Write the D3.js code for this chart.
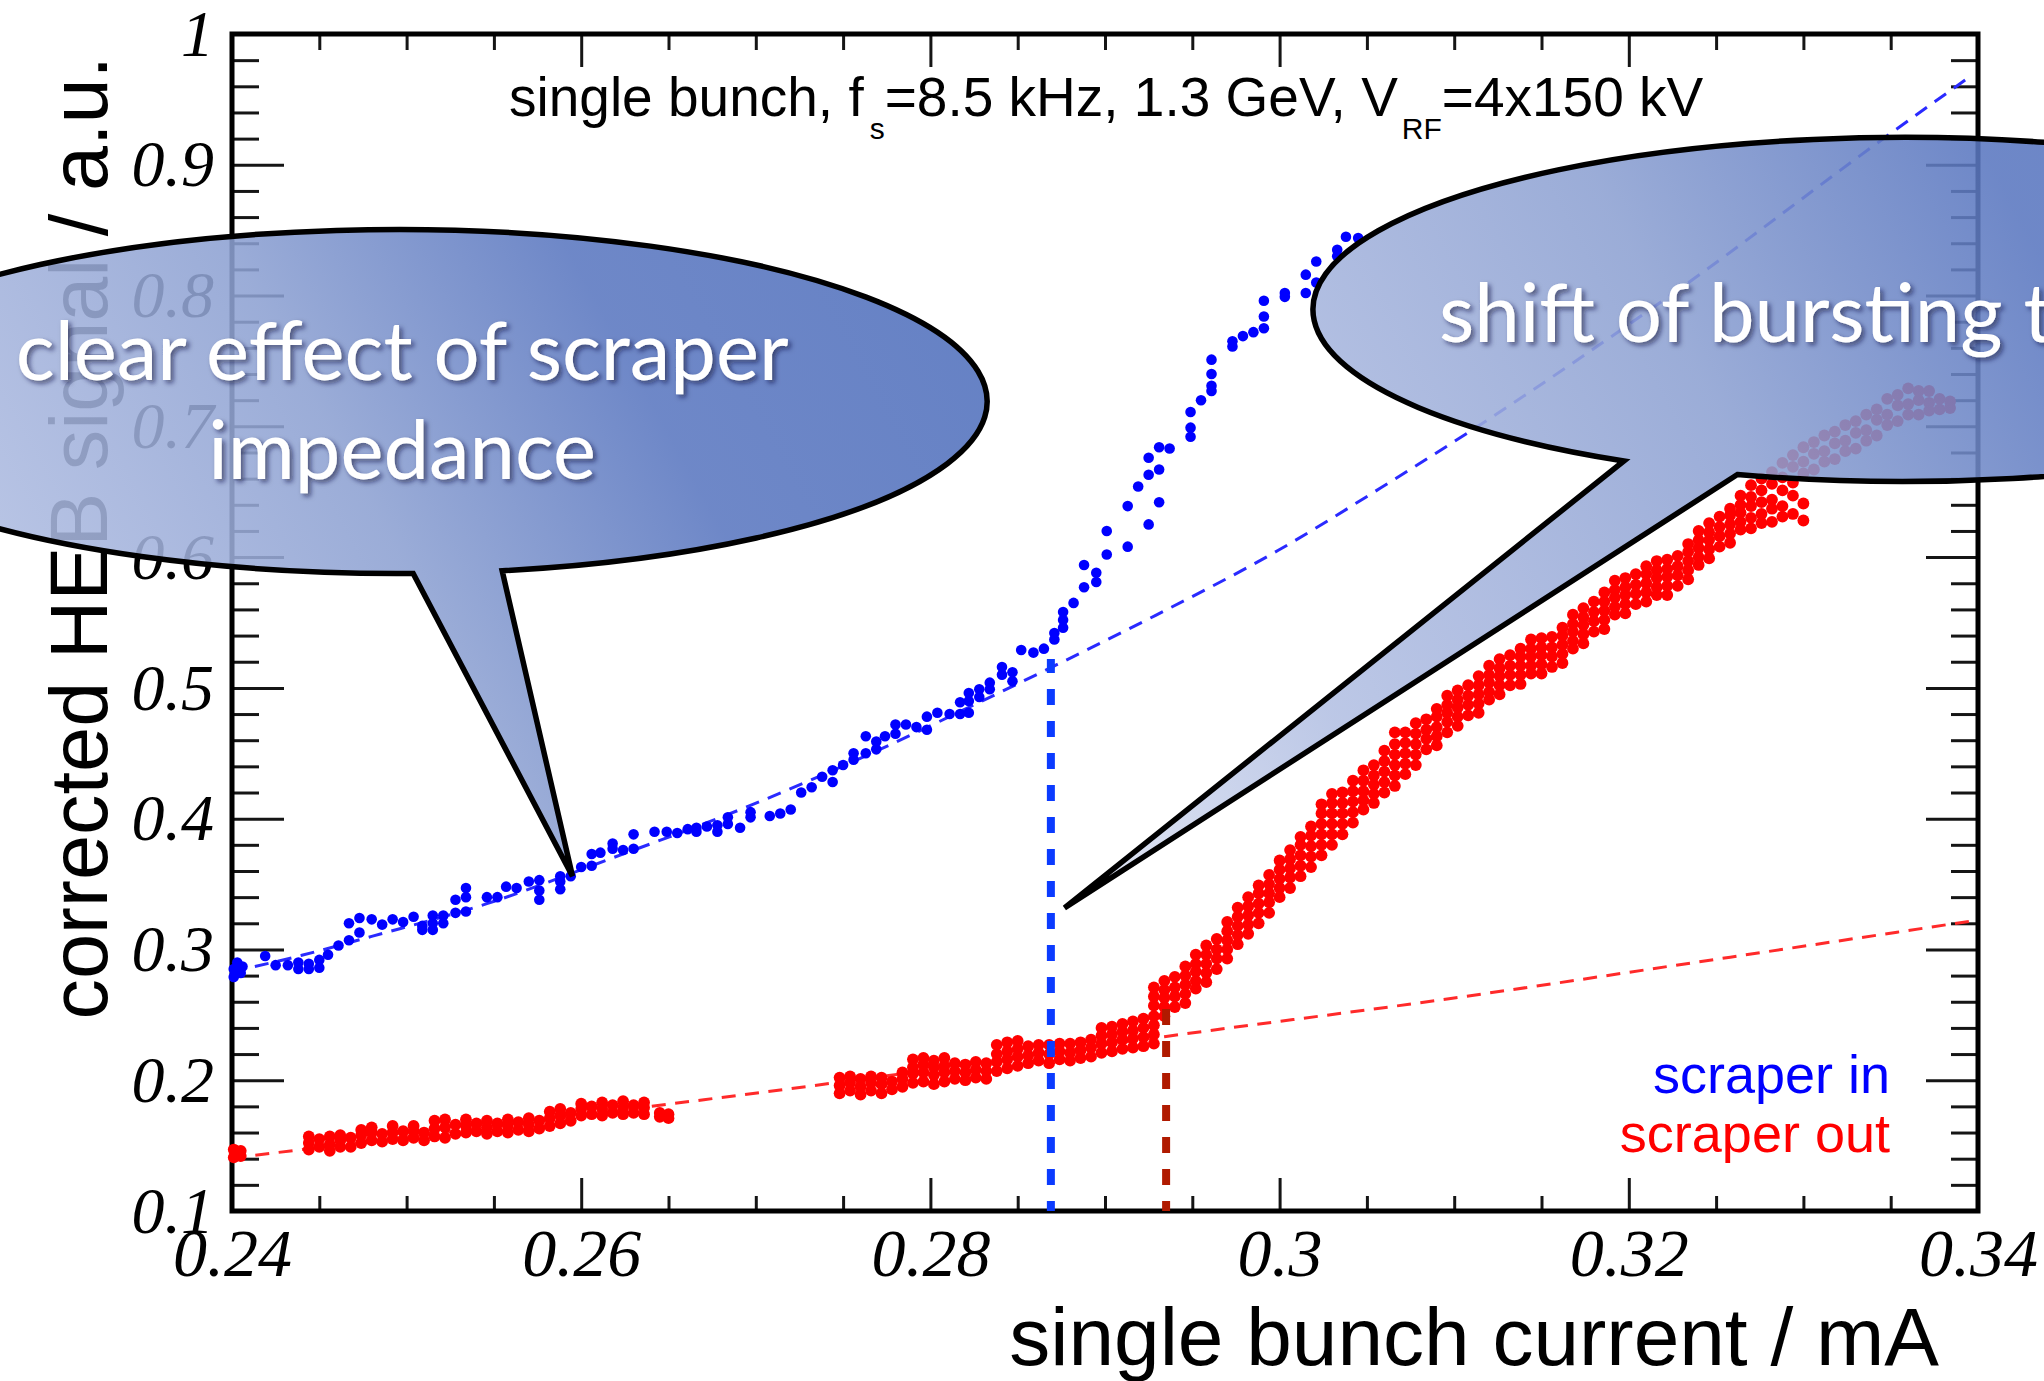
<!DOCTYPE html>
<html>
<head>
<meta charset="utf-8">
<script src="https://cdn.jsdelivr.net/npm/d3@7"></script>
<style>
  html, body { margin: 0; padding: 0; background: #fff; }
  svg { display: block; }
</style>
</head>
<body>
<svg id="chart" width="2044" height="1381"></svg>
<script>
// ---------------- data ----------------
const xTickValues = [0.24, 0.26, 0.28, 0.30, 0.32, 0.34];
const xTickLabels = ["0.24", "0.26", "0.28", "0.3", "0.32", "0.34"];
const yTickValues = [0.1, 0.2, 0.3, 0.4, 0.5, 0.6, 0.7, 0.8, 0.9, 1.0];
const yTickLabels = ["0.1", "0.2", "0.3", "0.4", "0.5", "0.6", "0.7", "0.8", "0.9", "1"];

const seriesNames = ["scraper in", "scraper out"];
const seriesColors = ["#0000ff", "#ff0000"];

// scraper in: [current (mA), corrected HEB signal (a.u.)]
const scraperIn = [
  [0.2401,0.279],[0.2401,0.285],[0.2403,0.290],[0.2405,0.282],[0.2406,0.287],
  [0.2419,0.295],[0.2425,0.288],[0.2432,0.288],[0.2438,0.285],[0.2438,0.290],
  [0.2444,0.285],[0.2444,0.289],[0.2450,0.286],[0.2450,0.292],[0.2455,0.296],
  [0.2461,0.303],[0.2467,0.307],[0.2467,0.320],[0.2473,0.313],[0.2473,0.324],
  [0.2480,0.323],[0.2486,0.319],[0.2492,0.323],[0.2498,0.321],[0.2504,0.325],
  [0.2509,0.315],[0.2509,0.318],[0.2515,0.315],[0.2515,0.320],[0.2515,0.326],
  [0.2521,0.320],[0.2521,0.326],[0.2528,0.328],[0.2528,0.338],[0.2534,0.329],
  [0.2534,0.340],[0.2534,0.347],[0.2546,0.340],[0.2552,0.340],[0.2557,0.348],
  [0.2563,0.347],[0.2570,0.352],[0.2576,0.338],[0.2576,0.345],[0.2576,0.353],
  [0.2588,0.346],[0.2588,0.352],[0.2588,0.356],[0.2594,0.356],[0.2600,0.363],
  [0.2606,0.364],[0.2606,0.373],[0.2611,0.374],[0.2618,0.377],[0.2618,0.381],
  [0.2624,0.376],[0.2630,0.377],[0.2630,0.388],[0.2642,0.390],[0.2649,0.390],
  [0.2655,0.389],[0.2661,0.392],[0.2666,0.390],[0.2666,0.393],[0.2672,0.394],
  [0.2678,0.390],[0.2678,0.395],[0.2684,0.396],[0.2684,0.401],[0.2691,0.393],
  [0.2697,0.401],[0.2697,0.405],[0.2708,0.402],[0.2714,0.404],[0.2720,0.407],
  [0.2726,0.420],[0.2732,0.424],[0.2738,0.432],[0.2744,0.428],[0.2744,0.437],
  [0.2750,0.441],[0.2756,0.445],[0.2756,0.450],[0.2763,0.450],[0.2763,0.463],
  [0.2769,0.453],[0.2769,0.459],[0.2774,0.463],[0.2780,0.465],[0.2780,0.472],
  [0.2786,0.472],[0.2792,0.470],[0.2798,0.468],[0.2798,0.478],[0.2804,0.481],
  [0.2811,0.480],[0.2817,0.480],[0.2817,0.489],[0.2822,0.481],[0.2822,0.490],
  [0.2822,0.496],[0.2828,0.493],[0.2828,0.499],[0.2834,0.499],[0.2834,0.504],
  [0.2841,0.510],[0.2841,0.516],[0.2847,0.505],[0.2847,0.512],[0.2852,0.529],
  [0.2859,0.527],[0.2865,0.530],[0.2871,0.537],[0.2871,0.542],[0.2876,0.546],
  [0.2876,0.552],[0.2876,0.558],[0.2882,0.565],[0.2888,0.577],[0.2888,0.594],
  [0.2895,0.581],[0.2895,0.588],[0.2901,0.602],[0.2901,0.620],[0.2913,0.608],
  [0.2913,0.639],[0.2919,0.654],[0.2925,0.625],[0.2925,0.663],[0.2925,0.676],
  [0.2931,0.642],[0.2931,0.667],[0.2931,0.684],[0.2937,0.683],[0.2949,0.692],
  [0.2949,0.699],[0.2949,0.711],[0.2955,0.720],[0.2961,0.727],[0.2961,0.731],
  [0.2961,0.740],[0.2961,0.751],[0.2973,0.761],[0.2973,0.765],[0.2979,0.769],
  [0.2985,0.772],[0.2991,0.775],[0.2991,0.784],[0.2991,0.796],[0.3003,0.799],
  [0.3003,0.802],[0.3015,0.802],[0.3015,0.816],[0.3021,0.810],[0.3021,0.826],
  [0.3033,0.830],[0.3033,0.835],[0.3038,0.845],[0.3045,0.844]
];

// scraper out: readings grouped by current, [current, [signals...]]
const scraperOutColumns = [
  [0.2401,[0.141,0.147]],[0.2405,[0.142,0.146]],
  [0.2444,[0.147,0.152,0.157]],[0.2450,[0.149,0.155]],[0.2456,[0.146,0.151,0.157]],
  [0.2462,[0.149,0.154,0.158]],[0.2468,[0.149,0.156]],[0.2474,[0.152,0.158,0.162]],
  [0.2480,[0.154,0.160,0.164]],[0.2486,[0.153,0.159]],[0.2492,[0.155,0.160,0.165]],
  [0.2498,[0.154,0.161]],[0.2504,[0.156,0.161,0.165]],[0.2510,[0.154,0.160]],
  [0.2516,[0.157,0.163,0.169]],[0.2522,[0.156,0.164,0.170]],[0.2528,[0.159,0.166]],
  [0.2534,[0.160,0.165,0.170]],[0.2540,[0.161,0.167]],[0.2546,[0.159,0.164,0.169]],
  [0.2552,[0.161,0.167]],[0.2558,[0.160,0.165,0.170]],[0.2564,[0.162,0.168]],
  [0.2570,[0.161,0.166,0.171]],[0.2576,[0.163,0.169]],[0.2582,[0.165,0.171,0.176]],
  [0.2588,[0.167,0.173,0.178]],[0.2594,[0.169,0.175]],[0.2600,[0.173,0.178,0.182]],
  [0.2606,[0.174,0.180]],[0.2612,[0.173,0.178,0.183]],[0.2618,[0.175,0.181]],
  [0.2624,[0.174,0.179,0.184]],[0.2630,[0.175,0.181]],[0.2636,[0.174,0.179,0.183]],
  [0.2645,[0.172,0.175]],[0.2650,[0.171,0.174]],
  [0.2748,[0.190,0.196,0.202]],[0.2754,[0.192,0.198,0.203]],[0.2760,[0.189,0.195,0.201]],
  [0.2766,[0.192,0.198,0.203]],[0.2772,[0.190,0.197,0.202]],[0.2778,[0.193,0.199]],
  [0.2784,[0.195,0.201,0.206]],[0.2790,[0.198,0.205,0.210,0.216]],
  [0.2796,[0.199,0.206,0.212,0.217]],[0.2802,[0.197,0.204,0.210,0.215]],
  [0.2808,[0.199,0.206,0.211,0.217]],[0.2814,[0.201,0.207,0.213]],
  [0.2820,[0.200,0.206,0.212]],[0.2826,[0.202,0.208,0.214]],[0.2832,[0.201,0.207,0.213]],
  [0.2838,[0.207,0.214,0.220,0.227]],[0.2844,[0.209,0.216,0.222,0.229]],
  [0.2850,[0.211,0.218,0.224,0.230]],[0.2856,[0.213,0.219,0.226]],
  [0.2862,[0.215,0.221,0.227]],[0.2868,[0.213,0.220,0.227]],[0.2874,[0.216,0.222,0.228]],
  [0.2880,[0.215,0.221,0.228]],[0.2886,[0.217,0.223,0.229]],[0.2892,[0.218,0.225,0.231]],
  [0.2898,[0.221,0.228,0.234,0.240]],[0.2904,[0.222,0.229,0.235,0.241]],
  [0.2910,[0.224,0.231,0.237,0.243]],[0.2916,[0.225,0.232,0.238,0.245]],
  [0.2922,[0.226,0.233,0.240,0.247]],[0.2928,[0.228,0.235,0.242,0.249,0.257,0.264,0.271]],
  [0.2934,[0.249,0.256,0.263,0.269,0.276]],[0.2940,[0.256,0.264,0.271,0.279]],
  [0.2946,[0.259,0.266,0.273,0.280,0.287]],[0.2952,[0.270,0.276,0.283,0.289,0.296]],
  [0.2958,[0.275,0.282,0.289,0.296,0.303]],[0.2964,[0.285,0.293,0.300,0.308]],
  [0.2970,[0.293,0.300,0.307,0.314,0.321]],[0.2976,[0.304,0.311,0.318,0.325,0.332]],
  [0.2982,[0.312,0.319,0.326,0.333,0.340]],[0.2988,[0.320,0.328,0.335,0.343,0.349]],
  [0.2994,[0.328,0.336,0.343,0.350,0.357]],[0.3000,[0.340,0.347,0.354,0.361,0.368]],
  [0.3006,[0.347,0.355,0.362,0.369,0.376]],[0.3012,[0.356,0.364,0.372,0.380,0.386]],
  [0.3018,[0.363,0.371,0.379,0.387,0.394]],[0.3024,[0.372,0.380,0.388,0.396,0.404,0.411]],
  [0.3030,[0.380,0.388,0.396,0.404,0.412,0.419]],[0.3036,[0.388,0.396,0.404,0.412,0.420]],
  [0.3042,[0.397,0.405,0.413,0.421,0.429]],[0.3048,[0.407,0.414,0.421,0.429,0.437]],
  [0.3054,[0.412,0.419,0.426,0.433,0.441]],[0.3060,[0.420,0.428,0.436,0.444,0.452]],
  [0.3066,[0.425,0.433,0.441,0.449,0.457,0.466]],[0.3072,[0.434,0.442,0.450,0.458,0.466]],
  [0.3078,[0.441,0.449,0.457,0.465,0.473]],[0.3084,[0.453,0.461,0.468,0.476]],
  [0.3090,[0.456,0.463,0.470,0.478,0.484]],[0.3096,[0.466,0.474,0.481,0.487,0.494]],
  [0.3102,[0.471,0.478,0.485,0.491,0.498]],[0.3108,[0.479,0.487,0.494,0.502]],
  [0.3114,[0.481,0.488,0.495,0.502,0.509]],[0.3120,[0.491,0.497,0.504,0.510,0.517]],
  [0.3126,[0.495,0.502,0.509,0.515,0.522]],[0.3132,[0.502,0.510,0.517,0.525]],
  [0.3138,[0.503,0.510,0.517,0.524,0.530]],[0.3144,[0.511,0.517,0.524,0.530,0.537]],
  [0.3150,[0.511,0.518,0.525,0.531,0.538]],[0.3156,[0.516,0.524,0.531,0.539]],
  [0.3162,[0.519,0.526,0.533,0.540,0.546]],[0.3168,[0.530,0.536,0.543,0.549,0.556]],
  [0.3174,[0.534,0.541,0.548,0.554,0.561]],[0.3180,[0.543,0.551,0.558,0.566]],
  [0.3186,[0.545,0.552,0.559,0.566,0.573]],[0.3192,[0.556,0.562,0.569,0.575,0.582]],
  [0.3198,[0.557,0.564,0.571,0.577,0.584]],[0.3204,[0.564,0.572,0.579,0.587]],
  [0.3210,[0.566,0.573,0.580,0.587,0.593]],[0.3216,[0.571,0.577,0.584,0.590,0.597]],
  [0.3222,[0.571,0.578,0.585,0.591,0.598]],[0.3228,[0.578,0.586,0.593,0.601]],
  [0.3234,[0.583,0.590,0.597,0.604,0.610]],[0.3240,[0.594,0.600,0.607,0.613,0.620]],
  [0.3246,[0.599,0.606,0.613,0.619,0.626]],[0.3252,[0.608,0.616,0.623,0.631]],
  [0.3258,[0.611,0.618,0.625,0.632,0.637]],[0.3264,[0.621,0.627,0.634,0.640,0.647]],
  [0.3270,[0.622,0.630,0.639,0.646,0.655]],[0.3276,[0.626,0.633,0.642,0.651,0.660]],
  [0.3282,[0.627,0.637,0.644,0.656,0.665]],[0.3288,[0.631,0.639,0.651,0.661,0.672]],
  [0.3294,[0.633,0.647,0.657,0.669,0.678]],[0.3300,[0.628,0.641,0.664,0.673,0.684]],
  [0.3306,[0.667,0.679,0.688]],[0.3312,[0.673,0.681,0.693]],[0.3318,[0.675,0.687,0.696]],
  [0.3324,[0.681,0.689,0.701]],[0.3330,[0.683,0.695,0.704]],[0.3336,[0.689,0.697,0.709]],
  [0.3342,[0.693,0.705,0.713]],[0.3348,[0.701,0.709,0.721]],[0.3354,[0.704,0.716,0.724]],
  [0.3360,[0.709,0.717,0.729]],[0.3366,[0.709,0.720,0.727]],[0.3372,[0.712,0.718,0.727]],
  [0.3378,[0.713,0.721]],[0.3384,[0.714,0.719]]
];

// fitted curves (current, signal)
const scraperInFit = [
  [0.2400,0.283],[0.2440,0.2955],[0.2480,0.310],[0.2546,0.335],[0.2618,0.370],
  [0.2693,0.408],[0.2776,0.456],[0.2825,0.487],[0.2869,0.5155],[0.2929,0.5555],
  [0.2999,0.605],[0.3058,0.653],[0.3110,0.697],[0.3230,0.806],[0.3352,0.926],
  [0.3395,0.967]
];
const scraperOutFit = [
  [0.2400,0.1405],[0.2649,0.1815],[0.2748,0.1985],[0.2935,0.2335],
  [0.3098,0.2625],[0.3240,0.2905],[0.3400,0.3225]
];

// bursting thresholds: current and the height the marker reaches
const thresholdCurrents = [0.2869, 0.2935];
const thresholdTops = [0.522, 0.2576];
const thresholdColors = ["#0b3bff", "#b01a00"];

// ---------------- layout ----------------
const plot = { left: 232, right: 1978, top: 34, bottom: 1211 };
const x = d3.scaleLinear().domain([0.24, 0.34]).range([plot.left, plot.right]);
const y = d3.scaleLinear().domain([0.1, 1.0]).range([plot.bottom, plot.top]);

const svg = d3.select("#chart");
const defs = svg.append("defs");

svg.append("rect").attr("width", 2044).attr("height", 1381).attr("fill", "#fff");

// ---------------- axes (ticks on all four sides, pointing inward) ----------------
const xMinor = x.ticks(20).filter(v => !xTickValues.some(m => Math.abs(m - v) < 1e-9));
const yMinor = y.ticks(45).filter(v => !yTickValues.some(m => Math.abs(m - v) < 1e-9));

function addAxis(gen, transform) {
  const g = svg.append("g").attr("transform", transform).call(gen);
  g.select(".domain").remove();
  g.selectAll(".tick line").attr("stroke", "#151515").attr("stroke-width", 3);
  return g;
}
const tickFont = "'Liberation Serif', 'Times New Roman', serif";

addAxis(d3.axisBottom(x).tickValues(xMinor).tickSize(-15).tickFormat(""), `translate(0,${plot.bottom})`);
const xMajor = addAxis(d3.axisBottom(x).tickValues(xTickValues).tickSize(-33).tickPadding(17)
  .tickFormat((d, i) => xTickLabels[i]), `translate(0,${plot.bottom})`);
addAxis(d3.axisTop(x).tickValues(xMinor).tickSize(-16).tickFormat(""), `translate(0,${plot.top})`);
addAxis(d3.axisTop(x).tickValues(xTickValues).tickSize(-33).tickFormat(""), `translate(0,${plot.top})`);

addAxis(d3.axisLeft(y).tickValues(yMinor).tickSize(-27).tickFormat(""), `translate(${plot.left},0)`);
const yMajor = addAxis(d3.axisLeft(y).tickValues(yTickValues).tickSize(-52).tickPadding(18)
  .tickFormat((d, i) => yTickLabels[i]), `translate(${plot.left},0)`);
addAxis(d3.axisRight(y).tickValues(yMinor).tickSize(-27).tickFormat(""), `translate(${plot.right},0)`);
addAxis(d3.axisRight(y).tickValues(yTickValues).tickSize(-52).tickFormat(""), `translate(${plot.right},0)`);

xMajor.selectAll(".tick text").attr("font-size", 68);
yMajor.selectAll(".tick text").attr("font-size", 66);
[xMajor, yMajor].forEach(g => g.selectAll(".tick text")
  .attr("font-family", tickFont).attr("font-style", "italic").attr("fill", "#000"));

// frame
svg.append("rect")
  .attr("x", plot.left).attr("y", plot.top)
  .attr("width", plot.right - plot.left).attr("height", plot.bottom - plot.top)
  .attr("fill", "none").attr("stroke", "#000").attr("stroke-width", 5);

// axis titles
const sans = "'Liberation Sans', Arial, Helvetica, sans-serif";
svg.append("text")
  .attr("transform", "translate(107,56) rotate(-90)")
  .attr("text-anchor", "end").attr("font-family", sans).attr("font-size", 81)
  .attr("fill", "#000").text("corrected HEB signal / a.u.");
svg.append("text")
  .attr("x", 1939).attr("y", 1365)
  .attr("text-anchor", "end").attr("font-family", sans).attr("font-size", 82)
  .attr("fill", "#000").text("single bunch current / mA");

// caption inside the frame
const cap = svg.append("text").attr("x", 509).attr("y", 116)
  .attr("font-family", sans).attr("font-size", 55).attr("fill", "#000");
cap.append("tspan").text("single bunch, f");
cap.append("tspan").attr("font-size", 30).attr("dx", 6).attr("dy", 23).text("s");
cap.append("tspan").attr("dy", -23).text("=8.5 kHz, 1.3 GeV, V");
cap.append("tspan").attr("font-size", 30).attr("dx", 4).attr("dy", 23).text("RF");
cap.append("tspan").attr("dy", -23).text("=4x150 kV");

// ---------------- fits ----------------
const line = d3.line().x(d => x(d[0])).y(d => y(d[1])).curve(d3.curveMonotoneX);
svg.append("path").datum(scraperOutFit).attr("d", line)
  .attr("fill", "none").attr("stroke", "#ff2a2a").attr("stroke-width", 3)
  .attr("stroke-dasharray", "14 9.5");
svg.append("path").datum(scraperInFit).attr("d", line)
  .attr("fill", "none").attr("stroke", "#2a2aff").attr("stroke-width", 3)
  .attr("stroke-dasharray", "14 9.5");

// ---------------- measurements ----------------
const scraperOut = scraperOutColumns.flatMap(([cx, ys]) => ys.map(v => [cx, v]));

svg.append("g").selectAll("circle").data(scraperOut).join("circle")
  .attr("cx", d => x(d[0])).attr("cy", d => y(d[1])).attr("r", 5.9)
  .attr("fill", seriesColors[1]);
svg.append("g").selectAll("circle").data(scraperIn).join("circle")
  .attr("cx", d => x(d[0])).attr("cy", d => y(d[1])).attr("r", 5.3)
  .attr("fill", seriesColors[0]);

// threshold markers
thresholdCurrents.forEach((c, i) => {
  svg.append("line")
    .attr("x1", x(c)).attr("x2", x(c))
    .attr("y1", y(0.1)).attr("y2", y(thresholdTops[i]))
    .attr("stroke", thresholdColors[i]).attr("stroke-width", 8)
    .attr("stroke-dasharray", "16 16").attr("stroke-dashoffset", 6);
});

// legend
seriesNames.forEach((name, i) => {
  svg.append("text")
    .attr("x", 1890).attr("y", 1093 + i * 59)
    .attr("text-anchor", "end").attr("font-family", sans).attr("font-size", 54)
    .attr("fill", seriesColors[i]).text(name);
});

// ---------------- callouts ----------------
const shadow = defs.append("filter").attr("id", "calloutTextShadow")
  .attr("x", "-10%").attr("y", "-40%").attr("width", "130%").attr("height", "190%");
shadow.append("feDropShadow").attr("dx", 3).attr("dy", 3).attr("stdDeviation", 2.5)
  .attr("flood-color", "#10183a").attr("flood-opacity", 0.6);

const calloutStops = [
  [0.00, "#e0e5f3"], [0.20, "#b3c0e3"], [0.35, "#a1b1db"],
  [0.50, "#8da1d2"], [0.72, "#5a77c0"], [1.00, "#4f6fbc"]
];

const callouts = [
  { id: "cA", center: [0.24946, 0.7190], tip: [0.2595, 0.3560], baseDx: [105, 16],
    lines: ["clear effect of scraper", "impedance"], anchor: "middle", textDx: 5, textDy: [-21, 78] },
  { id: "cB", center: [0.3357, 0.7894], tip: [0.28768, 0.3318], baseDx: [-165.5, -279],
    lines: ["shift of bursting threshold"], anchor: "start", textDx: -464, textDy: [33] }
];
const RX = 590, RY = 172;

callouts.forEach(c => {
  const cx = x(c.center[0]), cy = y(c.center[1]);
  const tx = x(c.tip[0]), ty = y(c.tip[1]);
  const onRim = dx => cy + RY * Math.sqrt(1 - (dx / RX) ** 2);
  const bR = [cx + c.baseDx[0], onRim(c.baseDx[0])];
  const bL = [cx + c.baseDx[1], onRim(c.baseDx[1])];

  const x0 = Math.min(cx - RX, tx), x1 = cx + RX;
  const y0 = cy - RY, y1 = Math.max(cy + RY, ty);
  const grad = defs.append("linearGradient").attr("id", c.id + "Fill")
    .attr("gradientUnits", "userSpaceOnUse")
    .attr("x1", x0).attr("y1", y1).attr("x2", x1).attr("y2", y0);
  calloutStops.forEach(([o, col]) => grad.append("stop").attr("offset", o).attr("stop-color", col));

  svg.append("path")
    .attr("d", `M${bR[0]},${bR[1]} A${RX},${RY} 0 1 0 ${bL[0]},${bL[1]} L${tx},${ty} Z`)
    .attr("fill", `url(#${c.id}Fill)`).attr("fill-opacity", 0.88)
    .attr("stroke", "#000").attr("stroke-width", 5.5).attr("stroke-linejoin", "miter");

  c.el = c.lines.map((t, i) => svg.append("text")
    .attr("x", cx + c.textDx).attr("y", cy + c.textDy[i])
    .attr("text-anchor", c.anchor)
    .attr("font-family", "Lato, 'Open Sans', 'DejaVu Sans', sans-serif")
    .attr("font-size", 85).attr("fill", "#fff")
    .attr("filter", "url(#calloutTextShadow)").text(t));
});

// size the callout lettering so the first line spans its intended width
const ref = callouts[0].el[0].node().getComputedTextLength();
const calloutSize = ref > 0 ? 85 * 773 / ref : 85;
callouts.forEach(c => c.el.forEach(t => t.attr("font-size", calloutSize)));
</script>
</body>
</html>
